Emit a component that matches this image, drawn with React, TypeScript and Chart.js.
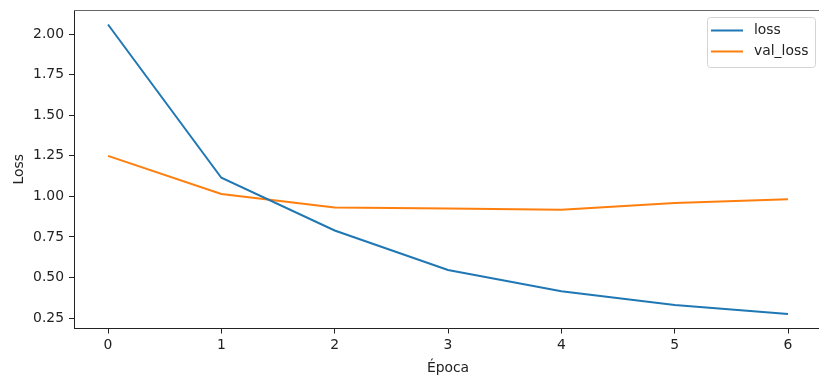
import { useEffect, useRef } from 'react';
import { Chart, registerables } from 'chart.js';

Chart.register(...registerables);

// Training history per epoch
const epochs = [0, 1, 2, 3, 4, 5, 6];
const loss = [2.06, 1.115, 0.79, 0.546, 0.415, 0.33, 0.275];
const valLoss = [1.25, 1.015, 0.932, 0.925, 0.918, 0.96, 0.983];

const xTicks = [0, 1, 2, 3, 4, 5, 6];
const yTicks = [0.25, 0.5, 0.75, 1.0, 1.25, 1.5, 1.75, 2.0];
const yTickLabels = ['0.25', '0.50', '0.75', '1.00', '1.25', '1.50', '1.75', '2.00'];

const FONT = 'DejaVu Sans';
const FONT_SIZE = 13.9;
const TEXT = '#222';
const BLUE = '#1f77b4';
const ORANGE = '#ff7f0e';

// 5% padding around the data, like matplotlib's default margins
const allY = [...loss, ...valLoss];
const yLo = Math.min(...allY);
const yHi = Math.max(...allY);
const yPad = (yHi - yLo) * 0.05;
const xPad = (epochs[epochs.length - 1] - epochs[0]) * 0.05;

// Top spine of the axes box
const framePlugin = {
  id: 'frame',
  afterDraw(chart: any) {
    const { ctx, chartArea } = chart;
    ctx.save();
    ctx.strokeStyle = '#666';
    ctx.lineWidth = 1;
    ctx.beginPath();
    ctx.moveTo(chartArea.left, chartArea.top + 0.5);
    ctx.lineTo(chart.width, chartArea.top + 0.5);
    ctx.stroke();
    ctx.restore();
  },
};

// Legend drawn inside the plot, upper right corner
const boxLegendPlugin = {
  id: 'boxLegend',
  afterDraw(chart: any) {
    const { ctx, chartArea } = chart;
    const w = 108;
    const h = 50;
    const right = chartArea.right - 7;
    const left = right - w;
    const top = chartArea.top + 7;
    ctx.save();
    ctx.beginPath();
    ctx.roundRect(left + 0.5, top + 0.5, w, h, 3);
    ctx.fillStyle = 'rgba(255,255,255,0.8)';
    ctx.fill();
    ctx.strokeStyle = '#d4d4d4';
    ctx.lineWidth = 1;
    ctx.stroke();
    chart.data.datasets.forEach((ds: any, i: number) => {
      const y = top + 13.5 + i * 21;
      ctx.strokeStyle = ds.borderColor;
      ctx.lineWidth = 2;
      ctx.beginPath();
      ctx.moveTo(left + 4, y);
      ctx.lineTo(left + 36, y);
      ctx.stroke();
      ctx.fillStyle = TEXT;
      ctx.font = `${FONT_SIZE}px "${FONT}"`;
      ctx.textBaseline = 'middle';
      ctx.textAlign = 'left';
      ctx.fillText(ds.label, left + 47, y);
    });
    ctx.restore();
  },
};

export default function App() {
  const canvasRef = useRef<HTMLCanvasElement | null>(null);

  useEffect(() => {
    const canvas = canvasRef.current;
    if (!canvas) return;
    const axisGrid = {
      drawOnChartArea: false,
      drawTicks: true,
      tickLength: 5,
      color: TEXT,
      lineWidth: 1,
    };
    const chart = new Chart(canvas, {
      type: 'line',
      data: {
        datasets: [
          {
            label: 'loss',
            data: epochs.map((e, i) => ({ x: e, y: loss[i] })),
            borderColor: BLUE,
            backgroundColor: BLUE,
            borderWidth: 2,
            pointRadius: 0,
            tension: 0,
            fill: false,
          },
          {
            label: 'val_loss',
            data: epochs.map((e, i) => ({ x: e, y: valLoss[i] })),
            borderColor: ORANGE,
            backgroundColor: ORANGE,
            borderWidth: 2,
            pointRadius: 0,
            tension: 0,
            fill: false,
          },
        ],
      },
      options: {
        responsive: false,
        animation: false,
        devicePixelRatio: 1,
        layout: { padding: { left: 0, top: 10, right: 18, bottom: 0 } },
        plugins: {
          legend: { display: false },
          tooltip: { enabled: false },
        },
        scales: {
          x: {
            type: 'linear',
            min: epochs[0] - xPad,
            max: epochs[epochs.length - 1] + xPad,
            grid: axisGrid,
            border: { display: true, color: TEXT, width: 1 },
            afterBuildTicks: (scale: any) => {
              scale.ticks = xTicks.map((v) => ({ value: v }));
            },
            afterFit: (scale: any) => {
              scale.height = 48.5;
              scale.paddingLeft = 0;
              scale.paddingRight = 0;
            },
            ticks: {
              padding: 4,
              color: TEXT,
              font: { family: FONT, size: FONT_SIZE },
              callback: (v: any) => String(v),
              maxRotation: 0,
            },
            title: {
              display: true,
              text: 'Época',
              color: TEXT,
              font: { family: FONT, size: FONT_SIZE, lineHeight: 1.2 },
              padding: { top: 0, bottom: 0 },
            },
          },
          y: {
            type: 'linear',
            min: yLo - yPad,
            max: yHi + yPad,
            grid: axisGrid,
            border: { display: true, color: TEXT, width: 1 },
            afterBuildTicks: (scale: any) => {
              scale.ticks = yTicks.map((v) => ({ value: v }));
            },
            afterFit: (scale: any) => {
              scale.width = 74;
              scale.paddingTop = 0;
              scale.paddingBottom = 0;
            },
            ticks: {
              padding: 5,
              color: TEXT,
              font: { family: FONT, size: FONT_SIZE },
              callback: (_v: any, i: number) => yTickLabels[i],
            },
            title: {
              display: true,
              text: 'Loss',
              color: TEXT,
              font: { family: FONT, size: FONT_SIZE, lineHeight: 1.2 },
              padding: { top: 11, bottom: 0 },
            },
          },
        },
      } as any,
      plugins: [framePlugin, boxLegendPlugin],
    });
    return () => chart.destroy();
  }, []);

  return (
    <div
      style={{
        position: 'fixed',
        left: 0,
        top: 0,
        width: 819,
        height: 377,
        overflow: 'hidden',
        background: '#fff',
      }}
    >
      <canvas ref={canvasRef} width={840} height={377} style={{ display: 'block' }} />
    </div>
  );
}
